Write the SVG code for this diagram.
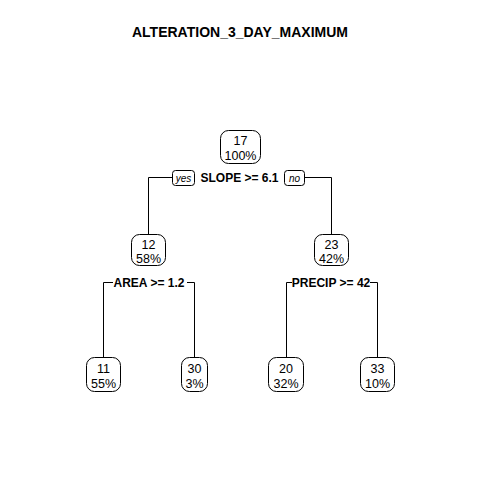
<svg xmlns="http://www.w3.org/2000/svg" width="480" height="480" viewBox="0 0 480 480">
<style>
.t{font-family:"Liberation Sans",Arial,sans-serif;font-size:12.5px;fill:#000;text-anchor:middle}
.b{font-weight:bold;font-size:12px}
.box{fill:#fff;stroke:#000;stroke-width:1}
.ln{fill:none;stroke:#000;stroke-width:1}
.yn{font-family:"Liberation Sans",Arial,sans-serif;font-size:10px;font-style:italic;text-anchor:middle}
</style>
<rect width="480" height="480" fill="#fff"/>
<text class="t b" x="240" y="37" style="font-size:14px">ALTERATION_3_DAY_MAXIMUM</text>
<g id="connectors">
<path class="ln" d="M172,177.5H148.5V234"/>
<path class="ln" d="M304,177.5H331.5V234"/>
<path class="ln" d="M113,282.5H103.5V357"/>
<path class="ln" d="M187,282.5H194.5V357"/>
<path class="ln" d="M292,282.5H286.5V357"/>
<path class="ln" d="M370,282.5H377.5V357"/>
</g>
<g id="split1">
<rect class="box" x="172.5" y="170.5" width="22" height="15" rx="3"/>
<text class="yn" x="183.5" y="181.5">yes</text>
<text class="t b" x="239.5" y="182">SLOPE &gt;= 6.1</text>
<rect class="box" x="284.5" y="170.5" width="20" height="15" rx="3"/>
<text class="yn" x="294.5" y="181.5">no</text>
</g>
<g id="split2"><text class="t b" x="149" y="287">AREA &gt;= 1.2</text></g>
<g id="split3"><text class="t b" x="331" y="287">PRECIP &gt;= 42</text></g>
<g id="n1">
<rect class="box" x="220.5" y="130.5" width="40" height="33" rx="8"/>
<text class="t" x="240.5" y="145">17</text>
<text class="t" x="240.5" y="160">100%</text>
</g>
<g id="n2">
<rect class="box" x="131.5" y="234.5" width="34" height="31" rx="8"/>
<text class="t" x="148.5" y="249">12</text>
<text class="t" x="148.5" y="263">58%</text>
</g>
<g id="n3">
<rect class="box" x="314.5" y="234.5" width="34" height="31" rx="8"/>
<text class="t" x="331.5" y="249">23</text>
<text class="t" x="331.5" y="263">42%</text>
</g>
<g id="n4">
<rect class="box" x="86.5" y="357.5" width="34" height="34" rx="8"/>
<text class="t" x="103.5" y="373">11</text>
<text class="t" x="103.5" y="388">55%</text>
</g>
<g id="n5">
<rect class="box" x="181.5" y="357.5" width="26" height="34" rx="8"/>
<text class="t" x="194.5" y="373">30</text>
<text class="t" x="194.5" y="388">3%</text>
</g>
<g id="n6">
<rect class="box" x="268.5" y="357.5" width="35" height="34" rx="8"/>
<text class="t" x="286" y="373">20</text>
<text class="t" x="286" y="388">32%</text>
</g>
<g id="n7">
<rect class="box" x="360.5" y="357.5" width="34" height="34" rx="8"/>
<text class="t" x="377.5" y="373">33</text>
<text class="t" x="377.5" y="388">10%</text>
</g>
</svg>
